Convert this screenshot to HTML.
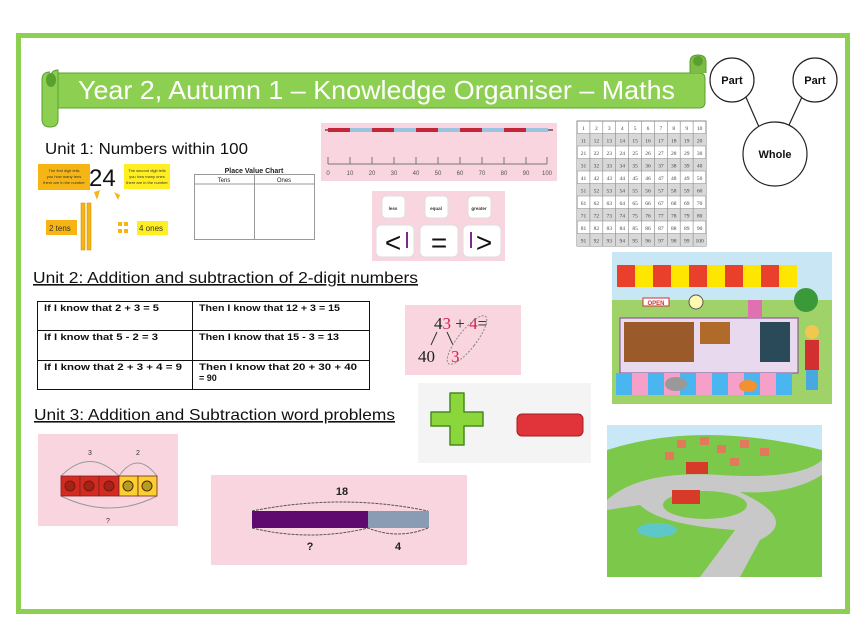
<!DOCTYPE html>
<html><head><meta charset="utf-8"><style>
html,body{margin:0;padding:0;background:#fff;}
svg{display:block;font-family:"Liberation Sans",sans-serif;}
</style></head><body>
<svg width="860" height="617" viewBox="0 0 860 617" xmlns="http://www.w3.org/2000/svg">
<rect x="0" y="0" width="860" height="617" fill="#fff"/>
<rect x="18.5" y="35.5" width="829" height="576" fill="none" stroke="#8dcf50" stroke-width="5"/>

<!-- banner -->
<path d="M58 73 H700 Q705 73 705 79 V102 Q705 108 699 108 H58 Z" fill="#8dcf50" stroke="#5aa02e" stroke-width="1"/>
<path d="M690 73 V62 Q690 55 698 55 Q706 55 706 62 V73" fill="#7dbd45" stroke="#5aa02e"/>
<circle cx="698" cy="61" r="5" fill="#5aa02e"/>
<path d="M50 80 Q50 70 58 70 V120 Q58 127 50 127 Q42 127 42 119 V80 Q42 72 50 72" fill="#8dcf50" stroke="#5aa02e"/>
<ellipse cx="51" cy="80" rx="5" ry="7" fill="#5aa02e"/>
<text x="78" y="99" font-size="26" fill="#fff" textLength="597" lengthAdjust="spacingAndGlyphs">Year 2, Autumn 1 – Knowledge Organiser – Maths</text>

<!-- part whole -->
<g fill="#fff" stroke="#222" stroke-width="1.2">
<line x1="745" y1="95" x2="759" y2="127"/><line x1="802" y1="97" x2="789" y2="125"/>
<circle cx="732" cy="80" r="22"/><circle cx="815" cy="80" r="22"/><circle cx="775" cy="154" r="32"/>
</g>
<g font-weight="bold" font-size="11" text-anchor="middle" fill="#111">
<text x="732" y="84">Part</text><text x="815" y="84">Part</text><text x="775" y="158">Whole</text>
</g>

<!-- unit 1 -->
<text x="45" y="154" font-size="16" fill="#111" textLength="203" lengthAdjust="spacingAndGlyphs">Unit 1: Numbers within 100</text>
<rect x="38" y="164" width="52" height="26" fill="#f7b515"/>
<text x="64" y="172" font-size="4" text-anchor="middle" fill="#333">The first digit tells</text>
<text x="64" y="178" font-size="4" text-anchor="middle" fill="#333">you how many tens</text>
<text x="64" y="184" font-size="4" text-anchor="middle" fill="#333">there are in the number</text>
<text x="89" y="186" font-size="24" fill="#111">24</text>
<rect x="124" y="164" width="46" height="25" fill="#ffee22"/>
<text x="147" y="172" font-size="4" text-anchor="middle" fill="#333">The second digit tells</text>
<text x="147" y="178" font-size="4" text-anchor="middle" fill="#333">you how many ones</text>
<text x="147" y="184" font-size="4" text-anchor="middle" fill="#333">there are in the number</text>
<path d="M94 192 L100 190 L97 200 Z" fill="#f7b515"/><path d="M114 192 L120 195 L118 200 Z" fill="#f7b515"/>
<rect x="46" y="220" width="31" height="15" fill="#f7b515"/><text x="49" y="231" font-size="8" fill="#333">2 tens</text>
<rect x="81" y="203" width="4" height="47" fill="#f7b515" stroke="#c78a00" stroke-width=".5"/>
<rect x="87" y="203" width="4" height="47" fill="#f7b515" stroke="#c78a00" stroke-width=".5"/>
<rect x="118" y="222" width="4" height="4" fill="#f7b515"/><rect x="124" y="222" width="4" height="4" fill="#f7b515"/>
<rect x="118" y="229" width="4" height="4" fill="#f7b515"/><rect x="124" y="229" width="4" height="4" fill="#f7b515"/>
<rect x="137" y="221" width="31" height="14" fill="#ffee22"/><text x="139" y="231" font-size="8" fill="#333">4 ones</text>

<text x="254" y="173" font-size="7" font-weight="bold" text-anchor="middle" fill="#222">Place Value Chart</text>
<rect x="194.5" y="174.5" width="120" height="65" fill="none" stroke="#999"/>
<line x1="194" y1="184" x2="315" y2="184" stroke="#999"/><line x1="254.5" y1="174" x2="254.5" y2="240" stroke="#999"/>
<text x="224" y="182" font-size="6" text-anchor="middle" fill="#222">Tens</text>
<text x="284" y="182" font-size="6" text-anchor="middle" fill="#222">Ones</text>

<!-- number line -->
<rect x="321" y="123" width="236" height="58" fill="#f9d6df"/>
<line x1="325" y1="130" x2="553" y2="130" stroke="#555" stroke-width="1.5"/>
<g stroke-width="4">
<line x1="328" y1="130" x2="350" y2="130" stroke="#c0283a"/><line x1="350" y1="130" x2="372" y2="130" stroke="#9cc3e0"/>
<line x1="372" y1="130" x2="394" y2="130" stroke="#c0283a"/><line x1="394" y1="130" x2="416" y2="130" stroke="#9cc3e0"/>
<line x1="416" y1="130" x2="438" y2="130" stroke="#c0283a"/><line x1="438" y1="130" x2="460" y2="130" stroke="#9cc3e0"/>
<line x1="460" y1="130" x2="482" y2="130" stroke="#c0283a"/><line x1="482" y1="130" x2="504" y2="130" stroke="#9cc3e0"/>
<line x1="504" y1="130" x2="526" y2="130" stroke="#c0283a"/><line x1="526" y1="130" x2="548" y2="130" stroke="#9cc3e0"/>
</g>
<line x1="328" y1="164" x2="547" y2="164" stroke="#777"/>
<g stroke="#777">
<line x1="328" y1="157" x2="328" y2="164"/><line x1="350" y1="157" x2="350" y2="164"/><line x1="372" y1="157" x2="372" y2="164"/><line x1="394" y1="157" x2="394" y2="164"/><line x1="416" y1="157" x2="416" y2="164"/><line x1="438" y1="157" x2="438" y2="164"/><line x1="460" y1="157" x2="460" y2="164"/><line x1="482" y1="157" x2="482" y2="164"/><line x1="504" y1="157" x2="504" y2="164"/><line x1="526" y1="157" x2="526" y2="164"/><line x1="547" y1="157" x2="547" y2="164"/>
</g>
<g font-size="6" fill="#555" text-anchor="middle">
<text x="328" y="175">0</text><text x="350" y="175">10</text><text x="372" y="175">20</text><text x="394" y="175">30</text><text x="416" y="175">40</text><text x="438" y="175">50</text><text x="460" y="175">60</text><text x="482" y="175">70</text><text x="504" y="175">80</text><text x="526" y="175">90</text><text x="547" y="175">100</text>
</g>

<!-- comparison -->
<rect x="372" y="191" width="133" height="70" fill="#f9d6df"/>
<g fill="#fff" stroke="#ddd"><rect x="382" y="196" width="23" height="22" rx="4"/><rect x="425" y="196" width="23" height="22" rx="4"/><rect x="468" y="196" width="23" height="22" rx="4"/>
<rect x="376" y="225" width="38" height="32" rx="5"/><rect x="420" y="225" width="38" height="32" rx="5"/><rect x="463" y="225" width="38" height="32" rx="5"/></g>
<g font-size="4.5" text-anchor="middle" fill="#333"><text x="393" y="210" font-weight="bold">less</text><text x="436" y="210" font-weight="bold">equal</text><text x="479" y="210" font-weight="bold">greater</text></g>
<g font-size="28" text-anchor="middle" fill="#111"><text x="393" y="252">&lt;</text><text x="439" y="252">=</text><text x="484" y="252">&gt;</text></g>
<rect x="406" y="232" width="2" height="16" fill="#7a2a8a"/><rect x="470" y="232" width="2" height="16" fill="#7a2a8a"/>

<!-- hundred square -->
<g>
<rect x="577" y="121" width="129" height="125" fill="#fff" stroke="#888"/>
<g fill="#d8d8d8"><rect x="577" y="133.5" width="129" height="12.5"/><rect x="577" y="158.5" width="129" height="12.5"/><rect x="577" y="183.5" width="129" height="12.5"/><rect x="577" y="208.5" width="129" height="12.5"/><rect x="577" y="233.5" width="129" height="12.5"/></g>
<g stroke="#888" stroke-width=".6">
<line x1="577" y1="133.5" x2="706" y2="133.5"/><line x1="577" y1="146" x2="706" y2="146"/><line x1="577" y1="158.5" x2="706" y2="158.5"/><line x1="577" y1="171" x2="706" y2="171"/><line x1="577" y1="183.5" x2="706" y2="183.5"/><line x1="577" y1="196" x2="706" y2="196"/><line x1="577" y1="208.5" x2="706" y2="208.5"/><line x1="577" y1="221" x2="706" y2="221"/><line x1="577" y1="233.5" x2="706" y2="233.5"/>
<line x1="589.9" y1="121" x2="589.9" y2="246"/><line x1="602.8" y1="121" x2="602.8" y2="246"/><line x1="615.7" y1="121" x2="615.7" y2="246"/><line x1="628.6" y1="121" x2="628.6" y2="246"/><line x1="641.5" y1="121" x2="641.5" y2="246"/><line x1="654.4" y1="121" x2="654.4" y2="246"/><line x1="667.3" y1="121" x2="667.3" y2="246"/><line x1="680.2" y1="121" x2="680.2" y2="246"/><line x1="693.1" y1="121" x2="693.1" y2="246"/>
</g>
<g font-size="5.5" fill="#444" text-anchor="middle" font-family="Liberation Serif,serif">
<text y="130"><tspan x="583.5">1</tspan><tspan x="596.4">2</tspan><tspan x="609.3">3</tspan><tspan x="622.2">4</tspan><tspan x="635.1">5</tspan><tspan x="648">6</tspan><tspan x="660.9">7</tspan><tspan x="673.8">8</tspan><tspan x="686.7">9</tspan><tspan x="699.6">10</tspan></text>
<text y="142.5"><tspan x="583.5">11</tspan><tspan x="596.4">12</tspan><tspan x="609.3">13</tspan><tspan x="622.2">14</tspan><tspan x="635.1">15</tspan><tspan x="648">16</tspan><tspan x="660.9">17</tspan><tspan x="673.8">18</tspan><tspan x="686.7">19</tspan><tspan x="699.6">20</tspan></text>
<text y="155"><tspan x="583.5">21</tspan><tspan x="596.4">22</tspan><tspan x="609.3">23</tspan><tspan x="622.2">24</tspan><tspan x="635.1">25</tspan><tspan x="648">26</tspan><tspan x="660.9">27</tspan><tspan x="673.8">28</tspan><tspan x="686.7">29</tspan><tspan x="699.6">30</tspan></text>
<text y="167.5"><tspan x="583.5">31</tspan><tspan x="596.4">32</tspan><tspan x="609.3">33</tspan><tspan x="622.2">34</tspan><tspan x="635.1">35</tspan><tspan x="648">36</tspan><tspan x="660.9">37</tspan><tspan x="673.8">38</tspan><tspan x="686.7">39</tspan><tspan x="699.6">40</tspan></text>
<text y="180"><tspan x="583.5">41</tspan><tspan x="596.4">42</tspan><tspan x="609.3">43</tspan><tspan x="622.2">44</tspan><tspan x="635.1">45</tspan><tspan x="648">46</tspan><tspan x="660.9">47</tspan><tspan x="673.8">48</tspan><tspan x="686.7">49</tspan><tspan x="699.6">50</tspan></text>
<text y="192.5"><tspan x="583.5">51</tspan><tspan x="596.4">52</tspan><tspan x="609.3">53</tspan><tspan x="622.2">54</tspan><tspan x="635.1">55</tspan><tspan x="648">56</tspan><tspan x="660.9">57</tspan><tspan x="673.8">58</tspan><tspan x="686.7">59</tspan><tspan x="699.6">60</tspan></text>
<text y="205"><tspan x="583.5">61</tspan><tspan x="596.4">62</tspan><tspan x="609.3">63</tspan><tspan x="622.2">64</tspan><tspan x="635.1">65</tspan><tspan x="648">66</tspan><tspan x="660.9">67</tspan><tspan x="673.8">68</tspan><tspan x="686.7">69</tspan><tspan x="699.6">70</tspan></text>
<text y="217.5"><tspan x="583.5">71</tspan><tspan x="596.4">72</tspan><tspan x="609.3">73</tspan><tspan x="622.2">74</tspan><tspan x="635.1">75</tspan><tspan x="648">76</tspan><tspan x="660.9">77</tspan><tspan x="673.8">78</tspan><tspan x="686.7">79</tspan><tspan x="699.6">80</tspan></text>
<text y="230"><tspan x="583.5">81</tspan><tspan x="596.4">82</tspan><tspan x="609.3">83</tspan><tspan x="622.2">84</tspan><tspan x="635.1">85</tspan><tspan x="648">86</tspan><tspan x="660.9">87</tspan><tspan x="673.8">88</tspan><tspan x="686.7">89</tspan><tspan x="699.6">90</tspan></text>
<text y="242.5"><tspan x="583.5">91</tspan><tspan x="596.4">92</tspan><tspan x="609.3">93</tspan><tspan x="622.2">94</tspan><tspan x="635.1">95</tspan><tspan x="648">96</tspan><tspan x="660.9">97</tspan><tspan x="673.8">98</tspan><tspan x="686.7">99</tspan><tspan x="699.6">100</tspan></text>
</g></g>

<!-- market -->
<rect x="612" y="252" width="220" height="152" fill="#c9e6f5"/>
<rect x="612" y="300" width="220" height="104" fill="#9fd36a"/>
<g><rect x="617" y="265" width="18" height="22" fill="#e8402a"/><rect x="635" y="265" width="18" height="22" fill="#ffe600"/><rect x="653" y="265" width="18" height="22" fill="#e8402a"/><rect x="671" y="265" width="18" height="22" fill="#ffe600"/><rect x="689" y="265" width="18" height="22" fill="#e8402a"/><rect x="707" y="265" width="18" height="22" fill="#ffe600"/><rect x="725" y="265" width="18" height="22" fill="#e8402a"/><rect x="743" y="265" width="18" height="22" fill="#ffe600"/><rect x="761" y="265" width="18" height="22" fill="#e8402a"/><rect x="779" y="265" width="18" height="22" fill="#ffe600"/></g>
<rect x="620" y="318" width="178" height="55" fill="#e9d9ef" stroke="#7a4a8a"/>
<rect x="624" y="322" width="70" height="40" fill="#9a5a2a"/><rect x="700" y="322" width="30" height="22" fill="#b06a2a"/><rect x="760" y="322" width="30" height="40" fill="#2a4a5a"/>
<g><rect x="616" y="373" width="16" height="22" fill="#4ab6f0"/><rect x="632" y="373" width="16" height="22" fill="#f4a0c8"/><rect x="648" y="373" width="16" height="22" fill="#4ab6f0"/><rect x="664" y="373" width="16" height="22" fill="#f4a0c8"/><rect x="680" y="373" width="16" height="22" fill="#4ab6f0"/><rect x="696" y="373" width="16" height="22" fill="#f4a0c8"/><rect x="712" y="373" width="16" height="22" fill="#4ab6f0"/><rect x="728" y="373" width="16" height="22" fill="#f4a0c8"/><rect x="744" y="373" width="16" height="22" fill="#4ab6f0"/><rect x="760" y="373" width="16" height="22" fill="#f4a0c8"/><rect x="776" y="373" width="16" height="22" fill="#4ab6f0"/></g>
<rect x="643" y="298" width="26" height="8" fill="#fff" stroke="#c33"/><text x="656" y="305" font-size="6" font-weight="bold" text-anchor="middle" fill="#c33">OPEN</text>
<circle cx="696" cy="302" r="7" fill="#fff8b0" stroke="#555"/>
<rect x="748" y="300" width="14" height="18" fill="#e070b0"/>
<rect x="805" y="340" width="14" height="30" fill="#d23030"/><rect x="806" y="370" width="12" height="20" fill="#4aa8e0"/><circle cx="812" cy="332" r="7" fill="#f0c850"/>
<circle cx="806" cy="300" r="12" fill="#3a9a3a"/>
<ellipse cx="676" cy="384" rx="11" ry="7" fill="#999"/><ellipse cx="748" cy="386" rx="9" ry="6" fill="#f39030"/>

<!-- town -->
<rect x="607" y="425" width="215" height="152" fill="#c8e8f8"/>
<path d="M607 450 Q700 420 822 450 V577 H607 Z" fill="#7cc84a"/>
<path d="M607 500 Q640 470 720 475 Q800 480 822 460 V475 Q790 495 740 492 Q800 520 760 540 L740 577 H700 L735 530 Q660 525 640 505 L607 510 Z" fill="#c8c8c8"/>
<ellipse cx="705" cy="505" rx="42" ry="14" fill="#7cc84a"/>
<rect x="672" y="490" width="28" height="14" fill="#d83a2a"/><rect x="686" y="462" width="22" height="12" fill="#d83a2a"/>
<ellipse cx="657" cy="530" rx="20" ry="7" fill="#5ec8c8"/>
<g fill="#e07a5a"><rect x="677" y="440" width="9" height="8"/><rect x="700" y="437" width="9" height="8"/><rect x="717" y="445" width="9" height="8"/><rect x="740" y="440" width="9" height="8"/><rect x="760" y="448" width="9" height="8"/><rect x="665" y="452" width="9" height="8"/><rect x="730" y="458" width="9" height="8"/></g>

<!-- unit 2 -->
<text x="33" y="283" font-size="16" fill="#111" text-decoration="underline" textLength="385" lengthAdjust="spacingAndGlyphs">Unit 2: Addition and subtraction of 2-digit numbers</text>
<g fill="none" stroke="#111" stroke-width="1">
<rect x="37.5" y="301.5" width="332" height="88"/>
<line x1="37" y1="330.5" x2="370" y2="330.5"/><line x1="37" y1="360.5" x2="370" y2="360.5"/><line x1="192.5" y1="301" x2="192.5" y2="390"/>
</g>
<g font-size="9" font-weight="bold" fill="#111">
<text x="44" y="311" textLength="115" lengthAdjust="spacingAndGlyphs">If I know that 2 + 3 = 5</text><text x="199" y="311" textLength="141" lengthAdjust="spacingAndGlyphs">Then I know that 12 + 3 = 15</text>
<text x="44" y="340" textLength="114" lengthAdjust="spacingAndGlyphs">If I know that 5 - 2 = 3</text><text x="199" y="340" textLength="140" lengthAdjust="spacingAndGlyphs">Then I know that 15 - 3 = 13</text>
<text x="44" y="370" textLength="138" lengthAdjust="spacingAndGlyphs">If I know that 2 + 3 + 4 = 9</text><text x="199" y="370" textLength="158" lengthAdjust="spacingAndGlyphs">Then I know that 20 + 30 + 40</text><text x="199" y="381">= 90</text>
</g>

<!-- 43+4 -->
<rect x="405" y="305" width="116" height="70" fill="#f9d6df"/>
<g font-family="Liberation Serif,serif" font-size="17">
<text x="434" y="329" fill="#222">4<tspan fill="#d4204a">3</tspan> + <tspan fill="#d4204a">4</tspan>=</text>
<text x="418" y="362" fill="#222">40</text><text x="451" y="362" fill="#d4204a">3</text>
</g>
<line x1="437" y1="332" x2="431" y2="345" stroke="#333"/><line x1="447" y1="332" x2="453" y2="345" stroke="#333"/>
<ellipse cx="467" cy="340" rx="9" ry="30" transform="rotate(38 467 340)" fill="none" stroke="#888" stroke-dasharray="2 1.5"/>

<!-- plus minus -->
<rect x="418" y="383" width="173" height="80" fill="#f4f4f4"/>
<path d="M450 393 h14 v19 h19 v14 h-19 v19 h-14 v-19 h-19 v-14 h19 z" fill="#8bd63a" stroke="#4a8a20" stroke-width="1.5" stroke-linejoin="round"/>
<rect x="517" y="414" width="66" height="22" rx="5" fill="#e0343a" stroke="#a02020"/>

<!-- unit 3 -->
<text x="34" y="420" font-size="16" fill="#111" text-decoration="underline" textLength="361" lengthAdjust="spacingAndGlyphs">Unit 3: Addition and Subtraction word problems</text>
<rect x="38" y="434" width="140" height="92" fill="#f9d6df"/>
<text x="90" y="455" font-size="7" text-anchor="middle" fill="#333">3</text><text x="138" y="455" font-size="7" text-anchor="middle" fill="#333">2</text>
<path d="M61 476 Q90 447 119 476 Q137 450 157 476" fill="none" stroke="#999"/>
<path d="M61 496 Q110 520 157 496" fill="none" stroke="#999"/>
<text x="108" y="523" font-size="7" text-anchor="middle" fill="#333">?</text>
<g stroke="#7a2020" stroke-width=".8">
<rect x="61" y="476" width="19" height="20" fill="#d42a20"/><rect x="80" y="476" width="19" height="20" fill="#d42a20"/><rect x="99" y="476" width="20" height="20" fill="#d42a20"/>
<rect x="119" y="476" width="19" height="20" fill="#f8d030"/><rect x="138" y="476" width="19" height="20" fill="#f8d030"/>
</g>
<g stroke="#6a2010"><circle cx="70" cy="486" r="5" fill="#a82018"/><circle cx="89" cy="486" r="5" fill="#a82018"/><circle cx="109" cy="486" r="5" fill="#a82018"/><circle cx="128" cy="486" r="5" fill="#b0a020"/><circle cx="147" cy="486" r="5" fill="#b0a020"/></g>

<rect x="211" y="475" width="256" height="90" fill="#f9d6df"/>
<text x="342" y="495" font-size="11" font-weight="bold" text-anchor="middle" fill="#222">18</text>
<path d="M252 511 Q342 493 428 511" fill="none" stroke="#555" stroke-dasharray="3 1"/>
<rect x="252" y="511" width="116" height="17" fill="#5e0a6e"/>
<rect x="368" y="511" width="61" height="17" fill="#8a9cb4"/>
<path d="M252 528 Q310 542 368 528 Q398 540 428 528" fill="none" stroke="#555" stroke-dasharray="3 1"/>
<text x="310" y="550" font-size="11" font-weight="bold" text-anchor="middle" fill="#222">?</text>
<text x="398" y="550" font-size="11" font-weight="bold" text-anchor="middle" fill="#222">4</text>
</svg>
</body></html>
